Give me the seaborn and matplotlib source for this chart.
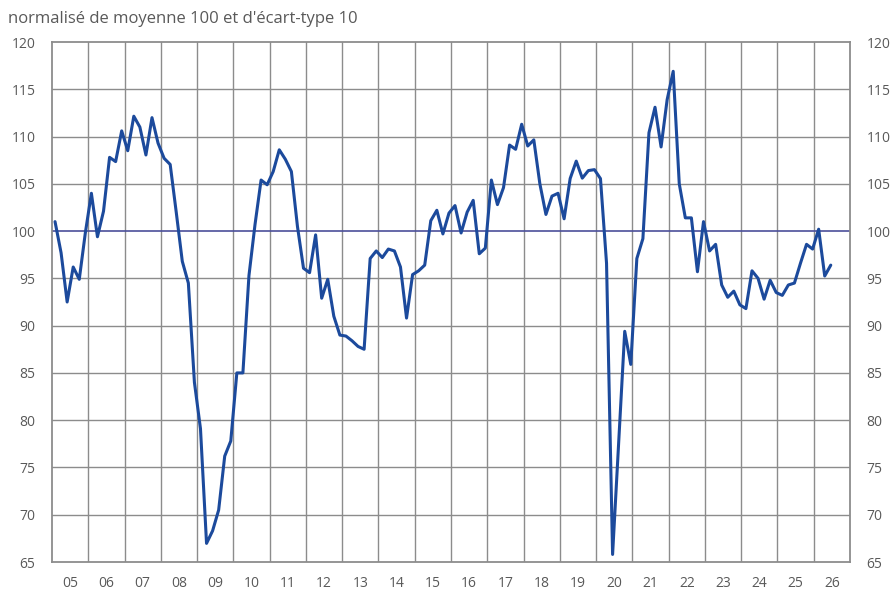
import numpy as np
import pandas as pd
import seaborn as sns
import matplotlib.pyplot as plt

# indicateur normalisé, une valeur tous les deux mois de début 2005 à mi-2026
values = [
    101.0, 97.7, 92.5, 96.2, 94.9, 99.8, 104.0, 99.4, 102.1, 107.8, 107.35, 110.6,
    108.5, 112.15, 111.0, 108.05, 112.0, 109.3, 107.7, 107.05, 102.0, 96.8, 94.5, 84.0,
    79.1, 66.97, 68.3, 70.5, 76.2, 77.8, 85.0, 85.0, 95.3, 100.7, 105.4, 104.9,
    106.3, 108.6, 107.6, 106.3, 100.5, 96.07, 95.6, 99.6, 92.9, 94.9, 91.0, 89.0,
    88.9, 88.4, 87.8, 87.5, 97.1, 97.9, 97.2, 98.1, 97.9, 96.2, 90.8, 95.4,
    95.8, 96.4, 101.1, 102.2, 99.7, 101.9, 102.7, 99.8, 102.0, 103.25, 97.6, 98.2,
    105.4, 102.8, 104.6, 109.1, 108.65, 111.3, 109.0, 109.65, 105.0, 101.76, 103.7, 104.0,
    101.3, 105.56, 107.4, 105.6, 106.4, 106.5, 105.55, 96.6, 65.8, 77.5, 89.4, 85.9,
    97.1, 99.2, 110.4, 113.1, 108.9, 113.9, 116.9, 105.0, 101.4, 101.4, 95.7, 101.0,
    97.9, 98.6, 94.3, 93.0, 93.65, 92.2, 91.8, 95.8, 95.0, 92.8, 94.8, 93.5,
    93.2, 94.3, 94.5, 96.6, 98.6, 98.1, 100.2, 95.25, 96.4,
]
years = list(range(2005, 2027))
year_labels = [f"{y % 100:02d}" for y in years]
y_ticks = list(range(65, 121, 5))

dates = np.linspace(2005 + 1 / 12, 2026.47, len(values))
df = pd.DataFrame({"date": dates, "indice": values})

sns.set_style("white")
plt.rcParams["font.family"] = ["Open Sans", "DejaVu Sans"]

grey_txt = "#595959"
grid_col = "#8c8c8c"

fig = plt.figure(figsize=(8.91, 5.94), dpi=100)
ax = fig.add_axes([52 / 891, 1 - 562 / 594, (850 - 52) / 891, (562 - 42) / 594])

# grille : limites d'années et graduations de 5 points
for y in years[1:]:
    ax.axvline(y, color=grid_col, lw=1, zorder=1)
for v in y_ticks[1:-1]:
    if v != 100:
        ax.axhline(v, color=grid_col, lw=1, zorder=1)
ax.axhline(100, color="#4b4f9a", lw=1.2, zorder=2)

sns.lineplot(data=df, x="date", y="indice", ax=ax, color="#1c4a9c", lw=2.2, zorder=3)

ax.set_xlim(2005, 2027)
ax.set_ylim(65, 120)
ax.set_xlabel("")
ax.set_ylabel("")

ax.set_xticks([y + 0.5 for y in years])
ax.set_xticklabels(year_labels)
ax.set_yticks(y_ticks)
ax.tick_params(axis="both", length=0, labelsize=10, colors=grey_txt)
ax.tick_params(axis="x", pad=10)
ax.tick_params(axis="y", pad=12)
ax.tick_params(axis="y", which="both", labelright=True, right=False)
for lab in ax.get_yticklabels():
    lab.set_color(grey_txt)

for side in ["left", "right", "top", "bottom"]:
    ax.spines[side].set_visible(True)
    ax.spines[side].set_color(grid_col)
    ax.spines[side].set_linewidth(1.3)

fig.text(8 / 891, 1 - 19 / 594, "normalisé de moyenne 100 et d'écart-type 10",
         fontsize=12, color=grey_txt, va="center", ha="left")

fig.savefig("out.png", dpi=100)
